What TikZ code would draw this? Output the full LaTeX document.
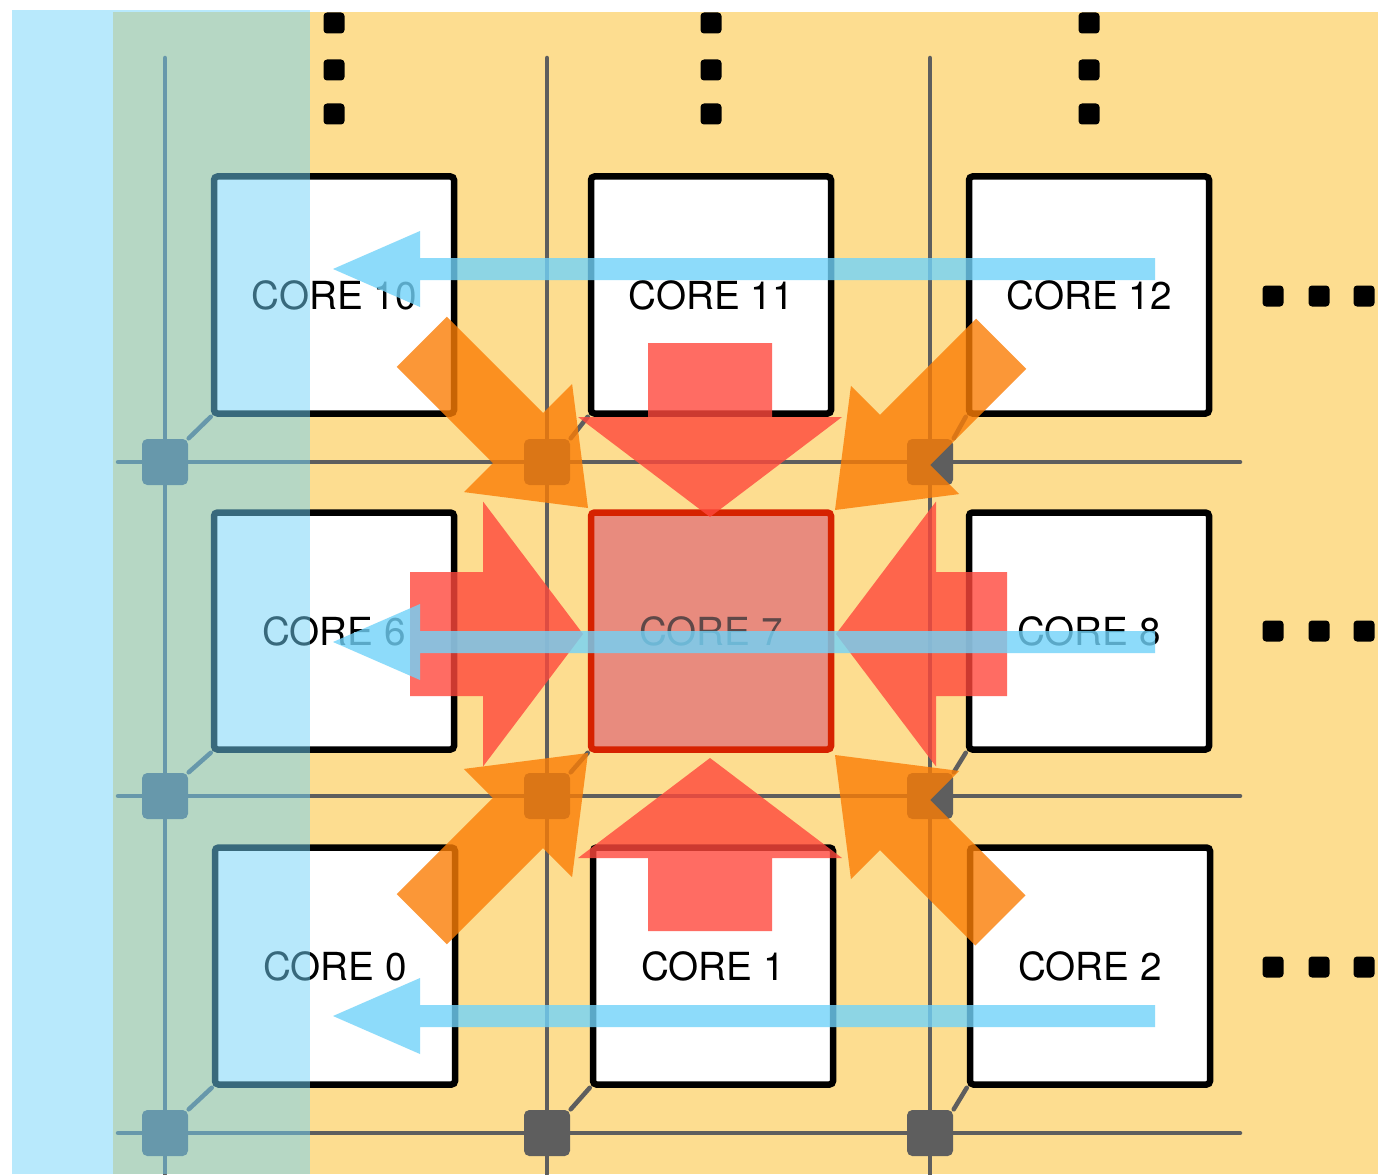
\documentclass[tikz,border=0pt]{standalone}
\usepackage{fontspec}
\setmainfont{TeX Gyre Heros}

\definecolor{meshbg}{RGB}{253,221,144}
\definecolor{edgeblue}{RGB}{113,211,249}
\definecolor{wiregray}{RGB}{94,94,94}
\definecolor{hotred}{RGB}{255,72,60}
\definecolor{warmorange}{RGB}{251,125,5}
\definecolor{coresevenfill}{RGB}{232,139,126}
\definecolor{coresevenline}{RGB}{214,34,0}
\definecolor{coreseventext}{RGB}{95,72,72}

\tikzset{
  core/.style={draw=black, line width=0.065cm, rounded corners=1pt, fill=white,
    minimum width=2.40cm, minimum height=2.37cm, font=\fontsize{11}{13}\selectfont},
  router/.style={fill=wiregray, rounded corners=1.5pt, minimum size=0.46cm, inner sep=0pt},
  wire/.style={wiregray, line width=0.045cm, line cap=round},
  redflow/.style={fill=hotred, fill opacity=0.8},
  orangeflow/.style={fill=warmorange, fill opacity=0.8},
  blueflow/.style={fill=edgeblue, fill opacity=0.8},
}

% fat arrow: style, tip, angle, length, shaft width, head width, head length
\newcommand{\fatarrow}[7]{%
  \fill[#1, shift={#2}, rotate=#3] (0,0) -- (-#7,#6/2) -- (-#7,#5/2) -- (-#4,#5/2)
    -- (-#4,-#5/2) -- (-#7,-#5/2) -- (-#7,-#6/2) -- cycle;}

\begin{document}
\begin{tikzpicture}
\useasboundingbox (0,0) rectangle (13.78,11.74);
\fill[meshbg] (1.13,0) rectangle (13.78,11.62);

% mesh wires
\foreach \x [count=\i] in {1.65,5.47,9.30} {
  \coordinate (wt-\i) at (\x,11.16);
  \coordinate (wb-\i) at (\x,0);
  \draw[wire] (wt-\i) -- (wb-\i);
}
\foreach \y [count=\j] in {7.12,3.78,0.41} {
  \coordinate (wl-\j) at (1.18,\y);
  \coordinate (wr-\j) at (12.40,\y);
  \draw[wire] (wl-\j) -- (wr-\j);
}

% routers
\foreach \x [count=\i] in {1.65,5.47,9.30}
  \foreach \y [count=\j] in {7.12,3.78,0.41}
    \node[router] (r-\i-\j) at (\x,\y) {};

% cores
\node[core] (c10) at (3.34,8.79) {CORE 10};
\node[core] (c11) at (7.11,8.79) {CORE 11};
\node[core] (c12) at (10.89,8.79) {CORE 12};
\node[core] (c6) at (3.34,5.43) {CORE 6};
\node[core, draw=coresevenline, fill=coresevenfill, text=coreseventext] (c7) at (7.11,5.43) {CORE 7};
\node[core] (c8) at (10.89,5.43) {CORE 8};
\node[core] (c0) at (3.35,2.08) {CORE 0};
\node[core] (c1) at (7.13,2.08) {CORE 1};
\node[core] (c2) at (10.90,2.08) {CORE 2};

% core to router links
\foreach \c/\r in {c10/r-1-1, c11/r-2-1, c12/r-3-1, c6/r-1-2, c7/r-2-2,
                   c8/r-3-2, c0/r-1-3, c1/r-2-3, c2/r-3-3}
  \draw[wire] (\r.north east) -- (\c.south west);

% more rows and columns
\foreach \x in {3.34,7.11,10.89}
  \foreach \y in {11.51,11.04,10.60}
    \fill[rounded corners=1pt] (\x-0.105,\y-0.105) rectangle ++(0.21,0.21);
\foreach \y in {8.78,5.43,2.07}
  \foreach \x in {12.73,13.19,13.64}
    \fill[rounded corners=1pt] (\x-0.105,\y-0.105) rectangle ++(0.21,0.21);

% traffic into core 7
\fatarrow{redflow}{(7.10,6.57)}{-90}{1.74}{1.24}{2.64}{1.00}
\fatarrow{redflow}{(7.10,4.16)}{90}{1.73}{1.24}{2.64}{1.00}
\fatarrow{redflow}{(5.83,5.40)}{0}{1.73}{1.24}{2.65}{1.00}
\fatarrow{redflow}{(8.36,5.40)}{180}{1.71}{1.24}{2.65}{1.00}
\fatarrow{orangeflow}{(5.88,6.66)}{-45}{2.35}{0.71}{1.53}{0.99}
\fatarrow{orangeflow}{(8.35,6.64)}{-135}{2.35}{0.71}{1.53}{0.99}
\fatarrow{orangeflow}{(5.88,4.21)}{45}{2.35}{0.71}{1.53}{0.99}
\fatarrow{orangeflow}{(8.35,4.19)}{135}{2.34}{0.71}{1.53}{0.99}

% row traffic towards the edge
\fatarrow{blueflow}{(3.33,9.05)}{180}{8.22}{0.22}{0.76}{0.87}
\fatarrow{blueflow}{(3.33,5.32)}{180}{8.22}{0.22}{0.76}{0.87}
\fatarrow{blueflow}{(3.33,1.58)}{180}{8.22}{0.22}{0.76}{0.87}

% edge column
\fill[edgeblue, fill opacity=0.5] (0.12,0) rectangle (3.10,11.64);
\end{tikzpicture}
\end{document}
